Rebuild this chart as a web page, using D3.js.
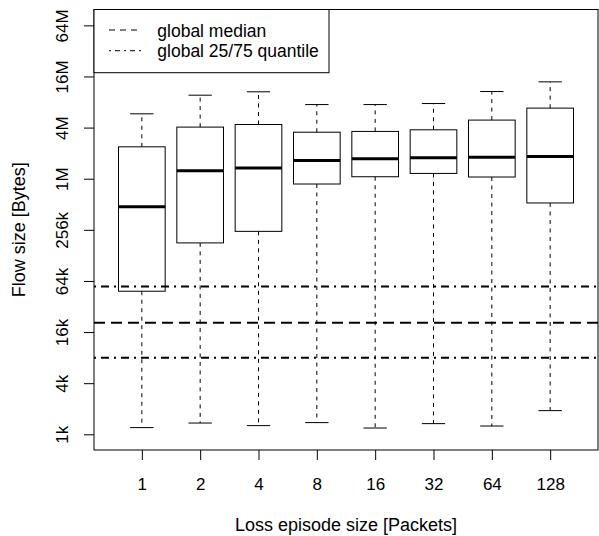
<!DOCTYPE html>
<html>
<head>
<meta charset="utf-8">
<script src="https://cdn.jsdelivr.net/npm/d3@7"></script>
<style>
  body { margin: 0; background: #fff; }
  svg { display: block; }
  text { font-family: "Liberation Sans", Arial, Helvetica, sans-serif; fill: #000; }
  .axis path, .axis line { stroke: #000; }
</style>
</head>
<body>
<div id="vis"></div>
<script>
// loss episode sizes (packets) on the x axis
var sizes = ['1', '2', '4', '8', '16', '32', '64', '128'];

// box stats, flow size in bytes
var lowerWhisker = [1228, 1390, 1296, 1406, 1214, 1368, 1282, 1946],
    q1 = [49600, 183900, 251500, 908000, 1106000, 1210000, 1098000, 543000],
    medians = [491000, 1300000, 1400000, 1720000, 1800000, 1850000, 1870000, 1920000],
    q3 = [2490000, 4250000, 4560000, 3700000, 3780000, 3950000, 5140000, 7110000],
    upperWhisker = [6090000, 10100000, 11070000, 7830000, 7830000, 8050000, 11150000, 14500000];

// global reference lines
var globalMedian = [21100],
    globalQuantiles = [8170, 56300];

// y tick values and labels
var yTicks = [1024, 4096, 16384, 65536, 262144, 1048576, 4194304, 16777216, 67108864],
    yTickLabels = ['1k', '4k', '16k', '64k', '256k', '1M', '4M', '16M', '64M'];

var legendLabels = ['global median', 'global 25/75 quantile'];

var w = 599,
    h = 536,
    pLeft = 94, pRight = 598,
    pTop = 9.5, pBottom = 450,
    tickLen = 10,
    fontSize = 17;

var x = d3.scaleLinear()
          .domain([0.18, sizes.length + 0.82])
          .range([pLeft, pRight]);
var y = d3.scaleLog().base(2)
          .domain([Math.pow(2, 9.386), Math.pow(2, 26.62)])
          .range([pBottom, pTop]);

var boxW = (x(1) - x(0)) * 0.8,
    capW = boxW / 2;

var vis = d3.select('#vis')
            .append('svg')
            .attr('width', w)
            .attr('height', h);

var data = sizes.map(function(s, i) {
    return { i: i + 1, lo: lowerWhisker[i], q1: q1[i], med: medians[i], q3: q3[i], hi: upperWhisker[i] };
});

/***** boxes *****/
var boxes = vis.selectAll('.box')
               .data(data)
               .enter()
               .append('g')
               .attr('class', 'box');

// whiskers
boxes.append('line')
     .attr('x1', function(d) { return x(d.i); })
     .attr('x2', function(d) { return x(d.i); })
     .attr('y1', function(d) { return y(d.q3); })
     .attr('y2', function(d) { return y(d.hi); })
     .attr('stroke', '#000').attr('stroke-dasharray', '4,4.5');
boxes.append('line')
     .attr('x1', function(d) { return x(d.i); })
     .attr('x2', function(d) { return x(d.i); })
     .attr('y1', function(d) { return y(d.q1); })
     .attr('y2', function(d) { return y(d.lo); })
     .attr('stroke', '#000').attr('stroke-dasharray', '4,4.5');

// caps
['hi', 'lo'].forEach(function(k) {
    boxes.append('line')
         .attr('x1', function(d) { return x(d.i) - capW / 2; })
         .attr('x2', function(d) { return x(d.i) + capW / 2; })
         .attr('y1', function(d) { return y(d[k]); })
         .attr('y2', function(d) { return y(d[k]); })
         .attr('stroke', '#000');
});

boxes.append('rect')
     .attr('x', function(d) { return x(d.i) - boxW / 2; })
     .attr('width', boxW)
     .attr('y', function(d) { return y(d.q3); })
     .attr('height', function(d) { return y(d.q1) - y(d.q3); })
     .attr('fill', 'none')
     .attr('stroke', '#000');

boxes.append('line')
     .attr('x1', function(d) { return x(d.i) - boxW / 2; })
     .attr('x2', function(d) { return x(d.i) + boxW / 2; })
     .attr('y1', function(d) { return y(d.med); })
     .attr('y2', function(d) { return y(d.med); })
     .attr('stroke', '#000')
     .attr('stroke-width', 3);

/***** reference lines *****/
vis.selectAll('.gmed')
   .data(globalMedian)
   .enter()
   .append('line')
   .attr('class', 'gmed')
   .attr('x1', pLeft).attr('x2', pRight)
   .attr('y1', function(d) { return y(d); })
   .attr('y2', function(d) { return y(d); })
   .attr('stroke', '#000').attr('stroke-width', 2)
   .attr('stroke-dasharray', '11,6');

vis.selectAll('.gq')
   .data(globalQuantiles)
   .enter()
   .append('line')
   .attr('class', 'gq')
   .attr('x1', pLeft).attr('x2', pRight)
   .attr('y1', function(d) { return y(d); })
   .attr('y2', function(d) { return y(d); })
   .attr('stroke', '#000').attr('stroke-width', 2)
   .attr('stroke-dasharray', '2,5,8,5');

/***** axes *****/
var yAxis = d3.axisLeft(y)
              .tickValues(yTicks)
              .tickFormat(function(d, i) { return yTickLabels[i]; })
              .tickSize(tickLen)
              .tickSizeOuter(0);

var gy = vis.append('g')
            .attr('class', 'axis')
            .attr('transform', 'translate(' + pLeft + ',0)')
            .call(yAxis);
gy.select('.domain').remove();
gy.selectAll('text')
  .attr('transform', 'rotate(-90)')
  .attr('x', 0)
  .attr('y', -(pLeft - 67.5))
  .attr('dy', 0)
  .attr('text-anchor', 'middle')
  .style('font-size', fontSize + 'px')
  .style('font-family', '"Liberation Sans", Arial, sans-serif');

var xAxis = d3.axisBottom(x)
              .tickValues(d3.range(1, sizes.length + 1))
              .tickFormat(function(d) { return sizes[d - 1]; })
              .tickSize(tickLen)
              .tickSizeOuter(0);

var gx = vis.append('g')
            .attr('class', 'axis')
            .attr('transform', 'translate(0,' + pBottom + ')')
            .call(xAxis);
gx.select('.domain').remove();
gx.selectAll('text')
  .attr('y', 40)
  .attr('dy', 0)
  .style('font-size', fontSize + 'px')
  .style('font-family', '"Liberation Sans", Arial, sans-serif');

// plot frame
vis.append('rect')
   .attr('x', pLeft).attr('y', pTop)
   .attr('width', pRight - pLeft)
   .attr('height', pBottom - pTop)
   .attr('fill', 'none')
   .attr('stroke', '#000');

// axis titles
vis.append('text')
   .attr('x', (pLeft + pRight) / 2)
   .attr('y', 531)
   .attr('text-anchor', 'middle')
   .style('font-size', '18px')
   .text('Loss episode size [Packets]');

vis.append('text')
   .attr('transform', 'translate(25,' + ((pTop + pBottom) / 2) + ') rotate(-90)')
   .attr('text-anchor', 'middle')
   .style('font-size', '18px')
   .text('Flow size [Bytes]');

/***** legend *****/
var legend = vis.append('g').attr('class', 'legend');
legend.append('rect')
      .attr('x', pLeft).attr('y', pTop)
      .attr('width', 329 - pLeft)
      .attr('height', 72.7 - pTop)
      .attr('fill', '#fff')
      .attr('stroke', '#000');

var legendDash = ['6,5', '2,4,5,4'];
legendLabels.forEach(function(label, i) {
    var ly = 30 + i * 20.7;
    legend.append('line')
          .attr('x1', 109).attr('x2', 141)
          .attr('y1', ly).attr('y2', ly)
          .attr('stroke', '#000')
          .attr('stroke-dasharray', legendDash[i]);
    legend.append('text')
          .attr('x', 157.3)
          .attr('y', ly + 6.5)
          .style('font-size', '17.5px')
          .text(label);
});
</script>
</body>
</html>
